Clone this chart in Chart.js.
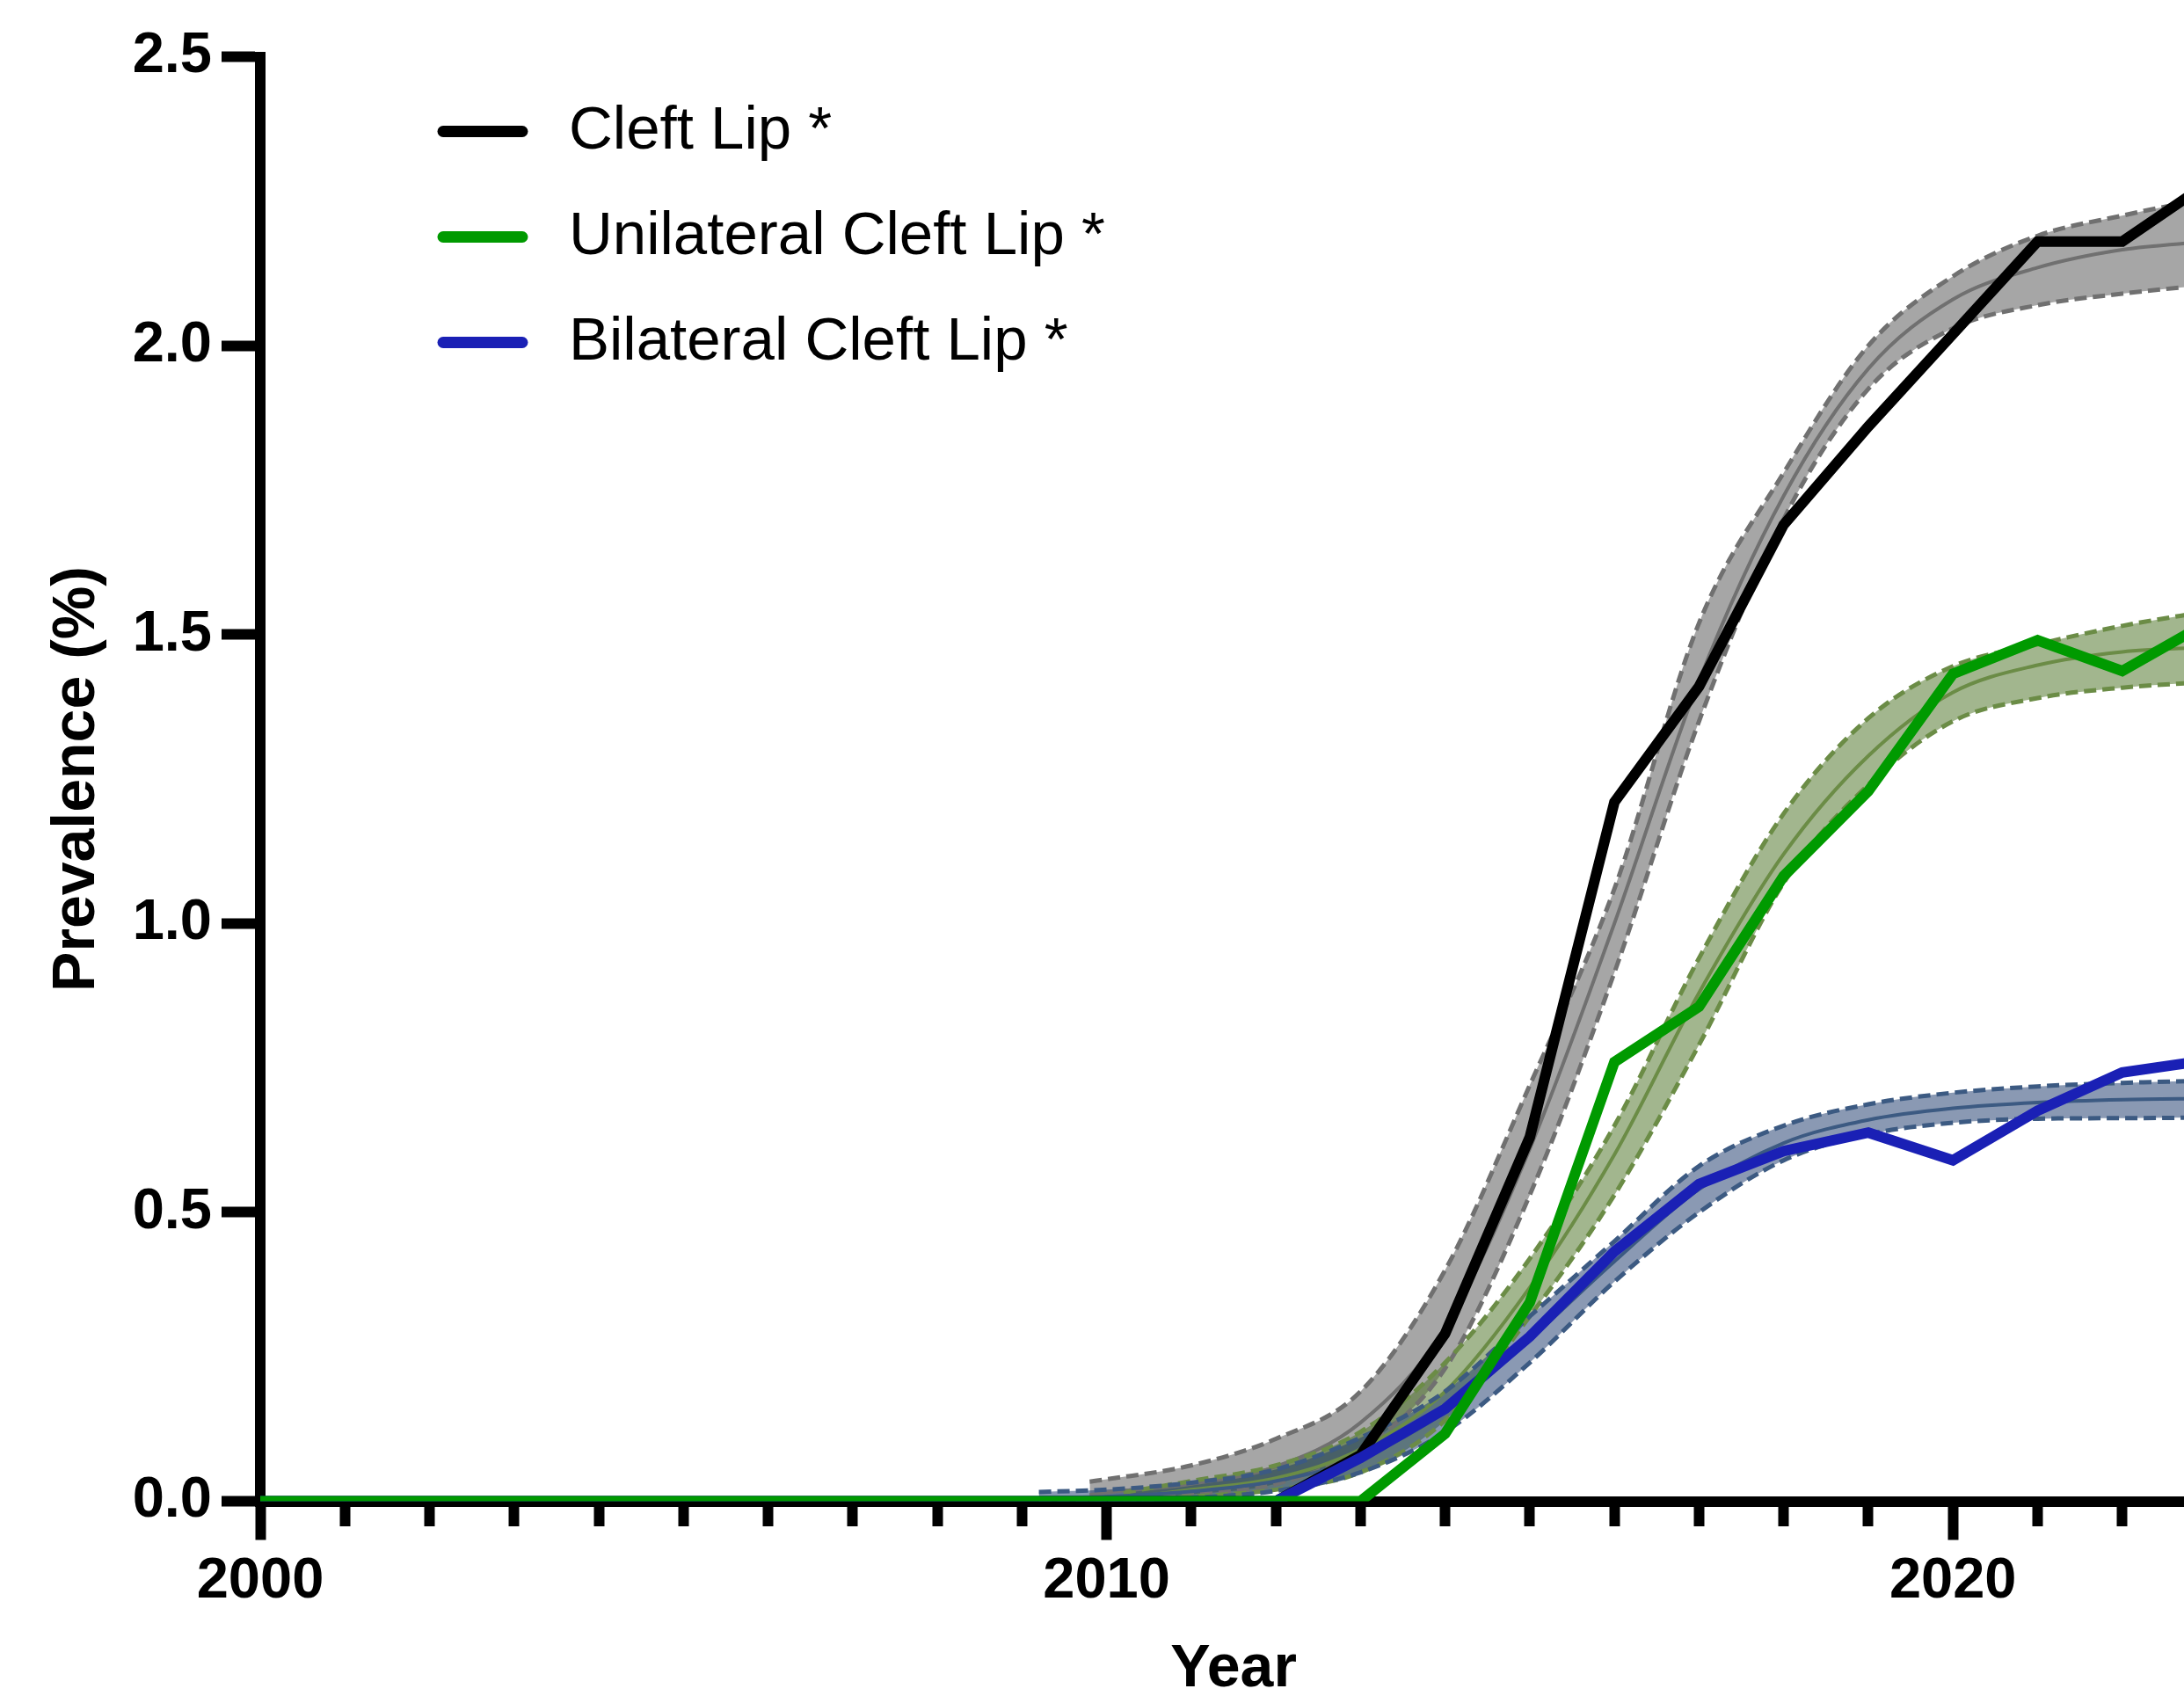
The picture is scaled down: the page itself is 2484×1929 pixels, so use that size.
<!DOCTYPE html>
<html>
<head>
<meta charset="utf-8">
<title>Cleft lip prevalence</title>
<script src="https://cdn.jsdelivr.net/npm/chart.js@4.4.1/dist/chart.umd.min.js"></script>
<style>
  html, body { margin: 0; padding: 0; background: #fff; overflow: hidden; }
  canvas { display: block; }
</style>
</head>
<body>
<canvas id="chart" width="2560" height="2000"></canvas>
<script>
// ─── Observed prevalence (%) per year ───
const years = [2000, 2001, 2002, 2003, 2004, 2005, 2006, 2007, 2008, 2009, 2010, 2011,
               2012, 2013, 2014, 2015, 2016, 2017, 2018, 2019, 2020, 2021, 2022, 2023];
const cleftLip   = [0, 0, 0, 0, 0, 0, 0, 0, 0, 0, 0, 0,
                    0, 0.08, 0.29, 0.63, 1.21, 1.41, 1.69, 1.86, 2.02, 2.18, 2.18, 2.28];
const unilateral = [0, 0, 0, 0, 0, 0, 0, 0, 0, 0, 0, 0,
                    0, 0, 0.117, 0.344, 0.76, 0.856, 1.082, 1.229, 1.432, 1.49, 1.437, 1.52];
const bilateral  = [0, 0, 0, 0, 0, 0, 0, 0, 0, 0, 0, 0,
                    0, 0.075, 0.16, 0.285, 0.432, 0.549, 0.606, 0.638, 0.59, 0.676, 0.742, 0.763];

// ─── Fitted curves with 95% bands ───
const cleftFitYears = [2009.8, 2010, 2011, 2012, 2013, 2014, 2015, 2016, 2017, 2018, 2019, 2020, 2021, 2022, 2023];
const cleftFitUpper = [0.034, 0.038, 0.062, 0.108, 0.19, 0.40, 0.72, 1.06, 1.52, 1.78, 2.00, 2.12, 2.19, 2.225, 2.255];
const cleftFitMid   = [0.011, 0.015, 0.03, 0.06, 0.136, 0.30, 0.61, 1.00, 1.42, 1.74, 1.96, 2.08, 2.135, 2.166, 2.18];
const cleftFitLower = [0, 0.003, 0.012, 0.03, 0.09, 0.23, 0.53, 0.915, 1.35, 1.70, 1.925, 2.03, 2.07, 2.09, 2.105];

const uniFitYears = [2010.2, 2011, 2012, 2013, 2014, 2015, 2016, 2017, 2018, 2019, 2020, 2021, 2022, 2023];
const uniFitUpper = [0.015, 0.035, 0.062, 0.12, 0.24, 0.42, 0.65, 0.94, 1.19, 1.355, 1.445, 1.483, 1.515, 1.54];
const uniFitMid   = [0.005, 0.02, 0.04, 0.09, 0.19, 0.37, 0.60, 0.88, 1.12, 1.29, 1.40, 1.447, 1.47, 1.478];
const uniFitLower = [0, 0.008, 0.02, 0.05, 0.14, 0.32, 0.53, 0.79, 1.07, 1.24, 1.35, 1.39, 1.408, 1.418];

const biFitYears = [2009.2, 2010, 2011, 2012, 2013, 2014, 2015, 2016, 2017, 2018, 2019, 2020, 2021, 2022, 2023];
const biFitUpper = [0.016, 0.02, 0.032, 0.055, 0.11, 0.19, 0.32, 0.45, 0.58, 0.65, 0.687, 0.707, 0.718, 0.724, 0.728];
const biFitMid   = [0.006, 0.008, 0.017, 0.035, 0.075, 0.155, 0.28, 0.415, 0.54, 0.62, 0.66, 0.68, 0.69, 0.695, 0.697];
const biFitLower = [0, 0.002, 0.006, 0.018, 0.05, 0.12, 0.24, 0.38, 0.50, 0.59, 0.635, 0.655, 0.662, 0.663, 0.664];

const legendLabels = ['Cleft Lip *', 'Unilateral Cleft Lip *', 'Bilateral Cleft Lip *'];
const yTicks = [0, 0.5, 1.0, 1.5, 2.0, 2.5];

const FONT = "'Liberation Sans', Arial, Helvetica, sans-serif";
const BLACK = '#000000';
const GREEN = '#009a00';
const BLUE  = '#1a20b5';

// ─── Helpers ───
const toPoints = (xs, ys) => ys.map((y, i) => ({ x: xs[i], y }));

function observed(label, values, color, order) {
  return {
    label, data: toPoints(years, values),
    borderColor: color, borderWidth: 12, borderCapStyle: 'round',
    pointRadius: 0, tension: 0, fill: false, order
  };
}

function band(xs, upper, mid, lower, line, fillColor, order) {
  const common = { pointRadius: 0, cubicInterpolationMode: 'monotone', borderColor: line, order };
  return [
    { ...common, data: toPoints(xs, upper), borderWidth: 5, borderDash: [14, 7],
      fill: { target: '+2' }, backgroundColor: fillColor },
    { ...common, data: toPoints(xs, mid), borderWidth: 4, fill: false },
    { ...common, data: toPoints(xs, lower), borderWidth: 5, borderDash: [14, 7], fill: false }
  ];
}

// ─── Legend drawn inside the plot area, top-left ───
const insideLegend = {
  id: 'insideLegend',
  afterDatasetsDraw(chart) {
    const { ctx, chartArea } = chart;
    const colors = [BLACK, GREEN, BLUE];
    ctx.save();
    ctx.font = `69px ${FONT}`;
    ctx.textBaseline = 'middle';
    ctx.lineCap = 'round';
    ctx.lineWidth = 13;
    legendLabels.forEach((label, i) => {
      const y = chartArea.top + 85 + i * 120;
      ctx.strokeStyle = colors[i];
      ctx.beginPath();
      ctx.moveTo(chartArea.left + 208, y);
      ctx.lineTo(chartArea.left + 298, y);
      ctx.stroke();
      ctx.fillStyle = BLACK;
      ctx.fillText(label, chartArea.left + 351, y);
    });
    ctx.restore();
  }
};

new Chart(document.getElementById('chart'), {
  type: 'line',
  data: {
    datasets: [
      observed(legendLabels[1], unilateral, GREEN, 1),
      observed(legendLabels[2], bilateral, BLUE, 2),
      observed(legendLabels[0], cleftLip, BLACK, 3),
      ...band(biFitYears, biFitUpper, biFitMid, biFitLower, '#3c5a82', 'rgba(30,60,110,0.52)', 7),
      ...band(uniFitYears, uniFitUpper, uniFitMid, uniFitLower, '#6b8c46', 'rgba(70,110,30,0.5)', 8),
      ...band(cleftFitYears, cleftFitUpper, cleftFitMid, cleftFitLower, '#707070', 'rgba(85,85,85,0.52)', 9)
    ]
  },
  options: {
    responsive: false,
    animation: false,
    layout: { padding: { top: 64.5, right: 50, bottom: 0, left: 0 } },
    plugins: {
      legend: { display: false },
      tooltip: { enabled: false },
      filler: { drawTime: 'beforeDatasetsDraw' }
    },
    scales: {
      x: {
        type: 'linear',
        min: 2000,
        max: 2023,
        afterFit: s => { s.height = 292.5; },
        border: { display: true, width: 12, color: BLACK },
        grid: {
          drawOnChartArea: false,
          tickLength: 44,
          tickWidth: 12,
          tickColor: BLACK,
          // short ticks for single years, full length for decades
          tickBorderDash: c => (c.tick && c.tick.value % 10 === 0) ? [] : [22, 200]
        },
        ticks: {
          stepSize: 1,
          autoSkip: false,
          maxRotation: 0,
          padding: 9,
          color: BLACK,
          font: { family: FONT, size: 65, weight: 'bold' },
          callback: v => (v % 10 === 0 ? String(v) : '')
        },
        title: {
          display: true, text: 'Year', color: BLACK,
          font: { family: FONT, size: 68, weight: 'bold' },
          padding: { top: 0, bottom: 60 }
        }
      },
      y: {
        min: 0,
        max: 2.5,
        afterFit: s => { s.width = 296; },
        afterBuildTicks: s => { s.ticks = yTicks.map(value => ({ value })); },
        border: { display: true, width: 12, color: BLACK },
        grid: { drawOnChartArea: false, tickLength: 44, tickWidth: 12, tickColor: BLACK },
        ticks: {
          padding: 11,
          color: BLACK,
          font: { family: FONT, size: 65, weight: 'bold' },
          callback: v => Number(v).toFixed(1)
        },
        title: {
          display: true, text: 'Prevalence (%)', color: BLACK,
          font: { family: FONT, size: 68, weight: 'bold' },
          padding: { top: 47, bottom: 0 }
        }
      }
    }
  },
  plugins: [insideLegend]
});
</script>
</body>
</html>
